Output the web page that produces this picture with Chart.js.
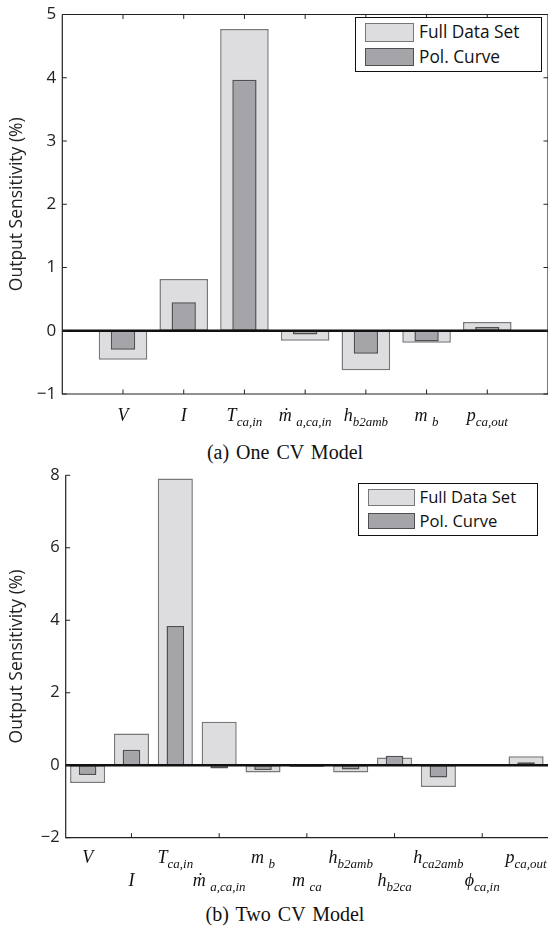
<!DOCTYPE html>
<html>
<head>
<meta charset="utf-8">
<script src="https://cdn.jsdelivr.net/npm/chart.js@4.4.0/dist/chart.umd.min.js"></script>
<style>
  body { margin: 0; width: 548px; height: 935px; background: #fff; position: relative; overflow: hidden; }
  .panel { position: absolute; left: 0; }
  .caption { position: absolute; left: 100px; width: 370px; text-align: center; font-family: 'Liberation Serif', 'Times New Roman', serif; font-size: 20px; line-height: 20px; color: #111; word-spacing: 2px; white-space: nowrap; }
  .lgbox { position: absolute; background: #fff; border: 1.7px solid #111; box-sizing: border-box; }
  .sw { position: absolute; box-sizing: border-box; border: 1.5px solid; }
  .lab { position: absolute; font-family: 'Open Sans', sans-serif; color: #111; white-space: nowrap; }
</style>
</head>
<body>
<div class="panel" style="top:0"><canvas id="chart-one" width="548" height="440"></canvas></div>
<div class="caption" style="top:442px">(a) One CV Model</div>
<div class="panel" style="top:460px"><canvas id="chart-two" width="548" height="440"></canvas></div>
<div class="caption" style="top:904px">(b) Two CV Model</div>

<script>
// (a) One CV model
const catsOne = ['V', 'I', 'T_ca,in', 'ṁ _a,ca,in', 'h_b2amb', 'm _b', 'p_ca,out'];
const fullOne = [-0.46, 0.82, 4.77, -0.16, -0.625, -0.19, 0.14];
const polOne = [-0.30, 0.45, 3.97, -0.06, -0.365, -0.17, 0.06];
const yTicksOne = [-1, 0, 1, 2, 3, 4, 5];

// (b) Two CV model
const catsTwo = ['V', 'I', 'T_ca,in', 'ṁ _a,ca,in', 'm _b', 'm _ca', 'h_b2amb', 'h_b2ca', 'h_ca2amb', 'ϕ_ca,in', 'p_ca,out'];
const fullTwo = [-0.49, 0.875, 7.91, 1.2, -0.2, -0.05, -0.2, 0.21, -0.6, -0.02, 0.25];
const polTwo = [-0.27, 0.43, 3.84, -0.09, -0.13, -0.03, -0.12, 0.26, -0.34, -0.01, 0.08];
const yTicksTwo = [-2, 0, 2, 4, 6, 8];
const xTicksTwo = ['I', 'ṁ _a,ca,in', 'm _ca', 'h_b2ca', 'ϕ_ca,in'];

const seriesNames = ['Full Data Set', 'Pol. Curve'];
const fillColors = ['rgb(221, 221, 223)', 'rgb(165, 165, 169)'];
const edgeColors = ['rgb(120, 120, 123)', 'rgb(80, 80, 83)'];

// MATLAB-like axes: inward ticks, thick zero line, italic labels with subscripts
const matlabAxes = {
    id: 'matlabAxes',
    afterDatasetsDraw(chart, args, opts) {
        const { ctx, chartArea: a, scales: { x, y } } = chart;
        const tl = 4.5;
        ctx.save();

        // zero line
        const y0 = y.getPixelForValue(0);
        ctx.strokeStyle = '#111';
        ctx.lineWidth = 2.6;
        ctx.beginPath();
        ctx.moveTo(a.left, y0);
        ctx.lineTo(a.right, y0);
        ctx.stroke();

        // frame
        ctx.strokeStyle = '#222';
        ctx.lineWidth = 1.2;
        ctx.beginPath();
        ctx.moveTo(a.left, a.top);
        ctx.lineTo(a.left, a.bottom);
        ctx.lineTo(a.right, a.bottom);
        if (opts.box) {
            ctx.lineTo(a.right, a.top);
            ctx.lineTo(a.left, a.top);
        }
        ctx.stroke();

        // tick marks
        ctx.lineWidth = 1;
        ctx.beginPath();
        y.ticks.forEach((t, i) => {
            const py = y.getPixelForTick(i);
            ctx.moveTo(a.left, py);
            ctx.lineTo(a.left + tl, py);
            if (opts.box) {
                ctx.moveTo(a.right, py);
                ctx.lineTo(a.right - tl, py);
            }
        });
        opts.xTicks.forEach(label => {
            const px = x.getPixelForValue(chart.data.labels.indexOf(label));
            ctx.moveTo(px, a.bottom);
            ctx.lineTo(px, a.bottom - tl);
            if (opts.box) {
                ctx.moveTo(px, a.top);
                ctx.lineTo(px, a.top + tl);
            }
        });
        ctx.stroke();

        // category labels
        const mainFont = 'italic 18px "Liberation Serif", "DejaVu Serif", serif';
        const subFont = 'italic 13px "Liberation Serif", "DejaVu Serif", serif';
        ctx.fillStyle = '#111';
        ctx.textBaseline = 'alphabetic';
        ctx.textAlign = 'left';
        let n = 0;
        chart.data.labels.forEach((label, i) => {
            if (!label) return;
            const [main, sub] = label.split('_');
            const row = n % opts.rows.length;
            n++;
            ctx.font = mainFont;
            const wMain = ctx.measureText(main).width;
            ctx.font = subFont;
            const wSub = sub ? ctx.measureText(sub).width : 0;
            const px = x.getPixelForValue(i) - (wMain + wSub) / 2;
            const base = a.bottom + opts.rows[row];
            ctx.font = mainFont;
            ctx.fillText(main, px, base);
            if (sub) {
                ctx.font = subFont;
                ctx.fillText(sub, px + wMain, base + 5);
            }
        });
        ctx.restore();
    }
};

function makeChart(id, labels, full, pol, yTicks, cfg) {
    const ctx = document.getElementById(id).getContext('2d');
    return new Chart(ctx, {
        type: 'bar',
        data: {
            labels: labels,
            datasets: [{
                label: seriesNames[0],
                data: full,
                backgroundColor: fillColors[0],
                borderColor: edgeColors[0],
                borderWidth: 1.5,
                borderSkipped: false,
                barPercentage: 0.8,
                categoryPercentage: 1,
                grouped: false,
                order: 1
            }, {
                label: seriesNames[1],
                data: pol,
                backgroundColor: fillColors[1],
                borderColor: edgeColors[1],
                borderWidth: 1.5,
                borderSkipped: false,
                barPercentage: 0.4,
                categoryPercentage: 1,
                grouped: false,
                order: 0
            }]
        },
        options: {
            responsive: false,
            animation: false,
            layout: { padding: { top: cfg.top, left: 0, right: 0, bottom: 0 } },
            scales: {
                x: {
                    type: 'category',
                    offset: cfg.offset,
                    grid: { display: false, drawTicks: false },
                    border: { display: false },
                    ticks: { display: false },
                    afterFit: (s) => { s.height = cfg.xHeight; }
                },
                y: {
                    min: yTicks[0],
                    max: yTicks[yTicks.length - 1],
                    grid: { display: false, drawTicks: false },
                    border: { display: false },
                    afterBuildTicks: (s) => { s.ticks = yTicks.map(v => ({ value: v })); },
                    afterFit: (s) => { s.width = cfg.left; },
                    ticks: {
                        padding: 6,
                        color: '#222',
                        font: { family: 'Open Sans', size: cfg.tickSize, lineHeight: 1 },
                        callback: (v) => String(v).replace('-', '\u2212')
                    },
                    title: {
                        display: true,
                        text: 'Output Sensitivity (%)',
                        color: '#222',
                        font: { family: 'Open Sans', size: 17.5, lineHeight: 1.2 },
                        padding: { top: 7, bottom: 0 }
                    }
                }
            },
            plugins: {
                legend: { display: false },
                tooltip: { enabled: false },
                matlabAxes: { box: cfg.box, xTicks: cfg.xTicks, rows: cfg.rows }
            }
        },
        plugins: [matlabAxes]
    });
}

// legend box built from the chart's datasets
function addLegend(chart, geo) {
    const box = document.createElement('div');
    box.className = 'lgbox';
    Object.assign(box.style, { left: geo.left + 'px', top: geo.top + 'px', width: geo.width + 'px', height: geo.height + 'px' });
    document.body.appendChild(box);
    chart.data.datasets.forEach((ds, i) => {
        const sw = document.createElement('div');
        sw.className = 'sw';
        Object.assign(sw.style, {
            left: geo.swX + 'px', top: geo.rowY[i] + 'px', width: geo.swW + 'px', height: geo.swH + 'px',
            background: ds.backgroundColor, borderColor: ds.borderColor
        });
        document.body.appendChild(sw);
        const lab = document.createElement('div');
        lab.className = 'lab';
        lab.textContent = ds.label;
        Object.assign(lab.style, {
            left: geo.textX + 'px', top: geo.rowY[i] + 'px', height: geo.swH + 'px',
            lineHeight: geo.swH + 'px', fontSize: geo.font + 'px'
        });
        document.body.appendChild(lab);
    });
}

const chartOne = makeChart('chart-one', ['', ...catsOne, ''], [null, ...fullOne, null], [null, ...polOne, null], yTicksOne, {
    top: 9.7, left: 62.3, xHeight: 46, offset: false, box: true, tickSize: 17,
    xTicks: catsOne, rows: [27]
});
const chartTwo = makeChart('chart-two', catsTwo, fullTwo, polTwo, yTicksTwo, {
    top: 15.3, left: 65.7, xHeight: 62.3, offset: true, box: false, tickSize: 16.5,
    xTicks: xTicksTwo, rows: [25.5, 48]
});

addLegend(chartOne, { left: 355, top: 17.3, width: 187, height: 54.5, swX: 365, swW: 49, swH: 18.4, rowY: [23.3, 47.7], textX: 419, font: 17.3 });
addLegend(chartTwo, { left: 358.4, top: 483.3, width: 179.4, height: 52.4, swX: 368, swW: 47, swH: 16.7, rowY: [489.3, 512.7], textX: 419.6, font: 16.6 });
</script>
</body>
</html>
